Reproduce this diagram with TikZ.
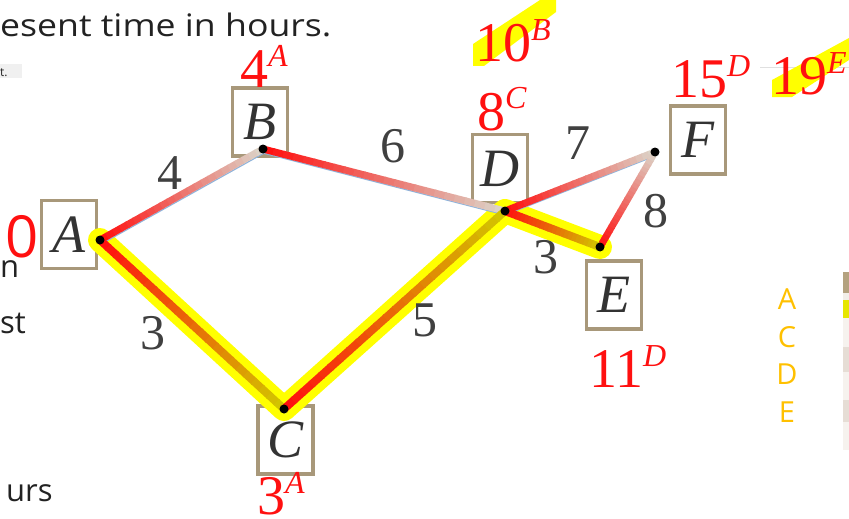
\documentclass[tikz,border=0pt]{standalone}
\usepackage{fontspec}
\setmainfont{Liberation Serif}
\newfontfamily\sansf{Open Sans}
\newfontfamily\osans{Open Sans}
\usetikzlibrary{calc}
\definecolor{hl}{HTML}{FFFF00}
\definecolor{redc}{HTML}{FF1010}
\definecolor{beig}{HTML}{DCD2C6}
\definecolor{oliv}{HTML}{D2C400}
\definecolor{boxc}{HTML}{A8987A}
\definecolor{bluel}{HTML}{8EB4DC}
\definecolor{orng}{HTML}{FFC000}
\definecolor{txtg}{HTML}{222222}
\definecolor{tbrown}{HTML}{B4A27F}
\definecolor{tpale}{HTML}{F2EEE8}
\definecolor{tyel}{HTML}{E6E600}
\definecolor{tlight}{HTML}{F6F2EE}
\definecolor{tbeige}{HTML}{E6DDD5}
\newcommand{\gedge}[5]{%
\foreach \i in {0,...,23}{%
 \pgfmathsetmacro{\ta}{\i/24}%
 \pgfmathsetmacro{\tb}{min((\i+1.15)/24,1)}%
 \pgfmathtruncatemacro{\pc}{100-\i*100/23}%
 \draw[line width=#5, draw=#3!\pc!#4] ($(#1)!\ta!(#2)$) -- ($(#1)!\tb!(#2)$);
}}
\newcommand{\rlab}[2]{{\fontsize{56}{56}\selectfont #1}\raisebox{21pt}{\fontsize{32}{32}\selectfont\itshape #2}}
\tikzset{
 vbox/.style={draw=boxc, line width=3.5pt, fill=white, minimum width=55pt, minimum height=68pt, inner sep=0pt, font=\fontsize{54}{54}\selectfont\itshape, text=black!80},
 elab/.style={font=\fontsize{50}{50}\selectfont, text=black!75, inner sep=0pt},
 rl/.style={text=redc, anchor=base west, inner sep=0pt},
 frag/.style={font=\sansf\fontsize{31}{31}\selectfont, text=txtg, anchor=base west, inner sep=0pt},
 olab/.style={font=\osans\fontsize{29}{29}\selectfont, text=orng, inner sep=0pt},
 dot/.style={circle, fill=black, inner sep=0pt, minimum size=9pt},
 hilite/.style={draw=hl, line width=24pt, line cap=round, line join=round},
 thinblue/.style={draw=bluel, line width=1.2pt}
}
\begin{document}
\begin{tikzpicture}[x=1pt,y=-1pt]
\useasboundingbox (0,0) rectangle (849,519);
% text fragments
\node[frag] (t1) at (0,37) {\scalebox{1.15}[1]{esent time in hours.}};
\fill[black!6] (0,64) rectangle (22,78);
\node[frag, font=\sansf\fontsize{12}{12}\selectfont] (t2) at (0,77) {t.};
\node[frag, text height=14pt] (t3) at (0,277) {n};
\node[frag] (t4) at (0,333) {st};
\node[frag] (t5) at (6,501) {urs};
% right table strip
\fill[tbrown] (843,272) rectangle (849,293);
\fill[tpale] (843,293) rectangle (849,300);
\fill[tyel] (843,300) rectangle (849,318);
\fill[tlight] (843,318) rectangle (849,347);
\fill[tbeige] (843,347) rectangle (849,372);
\fill[tlight] (843,372) rectangle (849,400);
\fill[tbeige] (843,400) rectangle (849,422);
\fill[tlight] (843,422) rectangle (849,450);
\draw[black!12, line width=0.8pt] (760,67) -- (849,67);
% orange letters
\node[olab] (oA) at (787,299) {A};
\node[olab] (oC) at (787,337) {C};
\node[olab] (oD) at (787,374) {D};
\node[olab] (oE) at (787,412) {E};
% highlight strokes behind labels
\fill[hl] (473,66) -- (473,44) -- (540,0) -- (556,0) -- (556,12) -- (484,66) -- cycle;
\fill[hl] (772,97) -- (772,80) -- (849,38) -- (849,60) -- (792,97) -- cycle;
% boxes
\node[vbox] (A) at (69,234.5) {A};
\node[vbox] (B) at (260,122) {B};
\node[vbox] (C) at (285.5,440) {C};
\node[vbox] (D) at (500,168.5) {D};
\node[vbox] (E) at (614,295) {E};
\node[vbox] (F) at (698,140) {F};
% dot positions
\coordinate (dA) at (100,240);
\coordinate (dB) at (263,149);
\coordinate (dC) at (284,409);
\coordinate (dD) at (505,211);
\coordinate (dE) at (600,247);
\coordinate (dF) at (655,152);
% highlight path
\draw[hilite] (dA) -- (dC) -- (dD) -- (dE);
% thin blue shadows
\draw[thinblue] ($(dA)+(3,3)$) -- ($(dB)+(3,3)$);
\draw[thinblue] ($(dB)+(0,4)$) -- ($(dD)+(0,4)$);
\draw[thinblue] ($(dD)+(0,4)$) -- ($(dF)+(0,4)$);
\draw[thinblue] ($(dA)+(2,4)$) -- ($(dC)+(2,4)$);
% gradient edges
\gedge{dA}{dB}{redc}{beig}{7pt}
\gedge{dB}{dD}{redc}{beig}{7pt}
\gedge{dD}{dF}{redc}{beig}{7pt}
\gedge{dE}{dF}{redc}{beig}{7pt}
\gedge{dA}{dC}{redc}{oliv}{8pt}
\gedge{dC}{dD}{redc}{oliv}{8pt}
\gedge{dD}{dE}{redc}{oliv}{8pt}
% dots
\foreach \p in {dA,dB,dC,dD,dE,dF} \node[dot] at (\p) {};
% edge labels
\node[elab] (lAB) at (170,173) {4};
\node[elab] (lBD) at (393,146) {6};
\node[elab] (lAC) at (153,333) {3};
\node[elab] (lCD) at (425,320) {5};
\node[elab] (lDF) at (578,143) {7};
\node[elab] (lFE) at (656,211) {8};
\node[elab] (lDE) at (546,257) {3};
% red annotations
\node[rl] (rB) at (240,88) {\rlab{4}{A}};
\node[rl, text depth=0pt] (rC) at (257,514) {\rlab{3}{A}};
\node[rl] (rD1) at (475,62) {\rlab{10}{B}};
\node[rl] (rD2) at (477,130) {\rlab{8}{C}};
\node[rl] (rF1) at (671,98) {\rlab{15}{D}};
\node[rl] (rF2) at (771,95) {\rlab{19}{E}};
\node[rl] (rE) at (589,387) {\rlab{11}{D}};
\node[rl, font=\osans\fontsize{58}{58}\selectfont, text depth=0pt] (rA) at (5,257) {0};
\end{tikzpicture}
\end{document}
